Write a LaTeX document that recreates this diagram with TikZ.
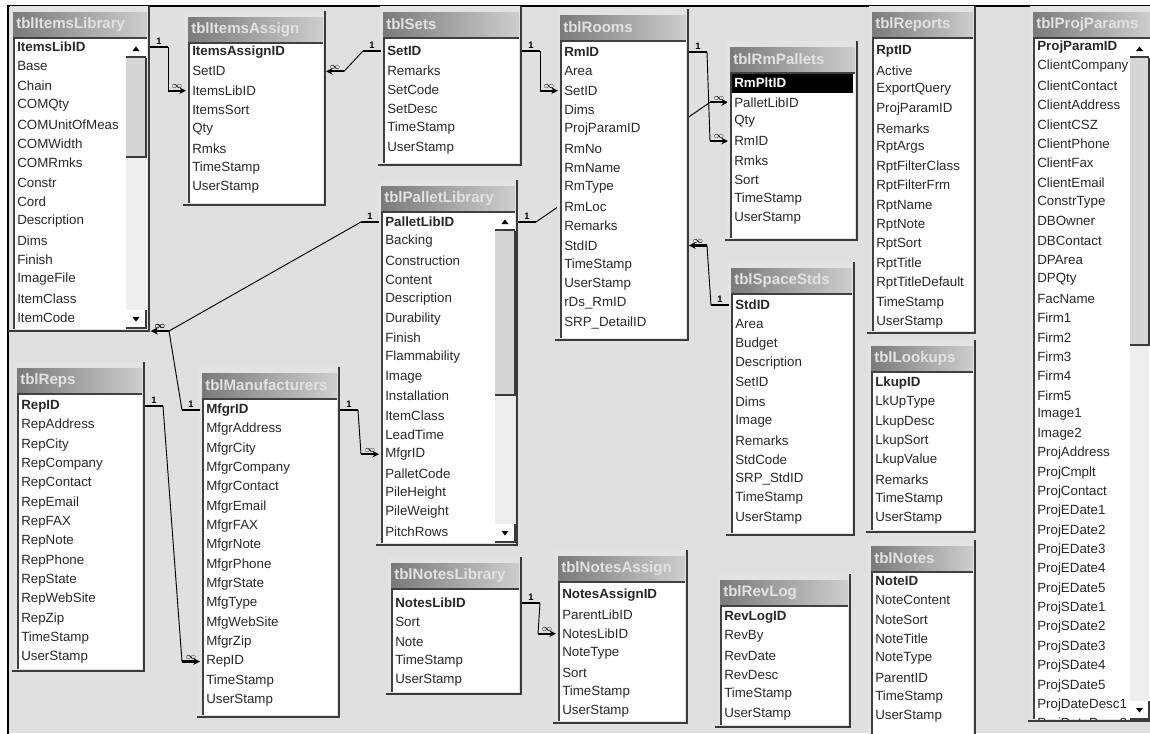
\documentclass[tikz,border=0pt]{standalone}
\usepackage{fontspec}
\setmainfont{Liberation Sans}
\usetikzlibrary{calc,arrows.meta}
\pgfdeclarelayer{canvas}\pgfdeclarelayer{behind}\pgfdeclarelayer{front}
\pgfsetlayers{canvas,behind,main,front}
\definecolor{bgc}{RGB}{224,224,224}
\definecolor{edgec}{RGB}{58,58,58}
\definecolor{tleft}{RGB}{122,122,122}
\definecolor{tright}{RGB}{206,206,206}
\definecolor{ttext}{RGB}{226,226,226}
\definecolor{ftext}{RGB}{40,40,40}
\definecolor{trackc}{RGB}{238,238,238}
\definecolor{btnc}{RGB}{214,214,214}
\tikzset{
 field/.style={anchor=west, inner sep=0pt, font=\fontsize{10}{10}\selectfont, text=ftext},
 ttl/.style={anchor=west, inner sep=0pt, font=\fontsize{11.3}{11.3}\selectfont\bfseries, text=ttext},
 winedge/.style={draw=edgec, line width=2.2pt},
 lbord/.style={draw=black!75, line width=1.4pt},
 stub/.style={line width=1.7pt, black},
 rline/.style={line width=0.7pt, black},
 card/.style={font=\fontsize{7}{7}\selectfont\bfseries, inner sep=0.5pt, above=0.2pt},
}
% #1 name, #2 x1, #3 title top, #4 x2, #5 y2, #6 first field y, #7 title, #8 fields
\newcommand{\dbtable}[8]{%
 \fill[bgc!90!white] (#2-3,#3-6) rectangle (#4,#5);
 \shade[left color=tleft,right color=tright] (#2,#3) rectangle (#4-3,#3+24);
 \begin{scope}
  \clip (#2,#3) rectangle (#4-3,#3+24);
  \node[ttl] (#1-title) at (#2+3,#3+12.5) {#7};
 \end{scope}
 \fill[white] (#2,#3+26) rectangle (#4-3,#5-3);
 \draw[lbord] (#2+0.7,#3+26) -- (#2+0.7,#5-3);
 \draw[lbord] (#2,#3+26) -- (#4-3,#3+26);
 \draw[winedge] (#4-1,#3-6) -- (#4-1,#5-1) -- (#2-5,#5-1);
 \begin{scope}
  \clip (#2,#3+27) rectangle (#4-3,#5-3);
  \foreach \f [count=\i] in {#8} {
    \node[field] (#1-\i) at (#2+4,{#6+(\i-1)*19.35}) {\ifnum\i=1\bfseries\fi\f};
    \coordinate (#1-\i-L) at (#2-2,{#6+(\i-1)*19.35});
    \coordinate (#1-\i-R) at (#4,{#6+(\i-1)*19.35});
  }
 \end{scope}
}
% #1 x1, #2 top, #3 x2, #4 bottom, #5 thumb bottom
\newcommand{\sbar}[5]{%
 \fill[trackc] (#1,#2) rectangle (#3,#4);
 \fill[white] (#1,#2) rectangle (#3,#2+17);
 \draw[edgec, line width=1pt] (#1,#2+17) -- (#3,#2+17);
 \fill[black] ({(#1+#3)/2-3.5},{#2+11}) -- ({(#1+#3)/2+3.5},{#2+11}) -- ({(#1+#3)/2},{#2+6.5}) -- cycle;
 \fill[btnc] (#1,#2+17.5) rectangle (#3,#5);
 \draw[edgec, line width=1.2pt] (#1,#5) -- (#3,#5) -- (#3,#2+17.5);
 \fill[white] (#1,#4-18) rectangle (#3,#4);
 \draw[edgec, line width=1.2pt] (#1,#4) -- (#3,#4) -- (#3,#4-18);
 \fill[black] ({(#1+#3)/2-3.5},{#4-11}) -- ({(#1+#3)/2+3.5},{#4-11}) -- ({(#1+#3)/2},{#4-6.5}) -- cycle;
}
% #1 name, #2 source coord, #3 source dir, #4 target coord, #5 target dir
\newcommand{\dbrel}[5]{%
 \coordinate (#1-a) at ($(#2)+(#3*18,0)$);
 \coordinate (#1-b) at ($(#4)+(#5*18,0)$);
 \draw[stub] (#2) -- (#1-a) node[card, midway] (#1-one) {1};
 \draw[rline] (#1-a) -- (#1-b);
 \draw[stub, -{Stealth[length=5pt,width=5pt]}] (#1-b) -- (#4) node[card, midway] (#1-many) {$\infty$};
}
\begin{document}
\begin{tikzpicture}[x=0.75pt,y=-0.75pt]
\useasboundingbox (0,0) rectangle (1150,733);
\begin{pgfonlayer}{canvas}
\fill[white] (0,0) rectangle (1150,733);
\fill[bgc] (8,6) rectangle (1150,733);
\draw[black, line width=1.4pt] (8,740) -- (8,6) -- (1150,6);
\end{pgfonlayer}

\dbtable{il}{13}{12}{150}{332}{47}{tblItemsLibrary}{ItemsLibID,Base,Chain,COMQty,COMUnitOfMeas,COMWidth,COMRmks,Constr,Cord,Description,Dims,Finish,ImageFile,ItemClass,ItemCode}
\sbar{126}{40}{146}{328}{157}
\coordinate (il-x) at (151,331);

\dbtable{ia}{188}{17}{326}{206}{52}{tblItemsAssign}{ItemsAssignID,SetID,ItemsLibID,ItemsSort,Qty,Rmks,TimeStamp,UserStamp}

\dbtable{se}{383}{12}{522}{166}{51}{tblSets}{SetID,Remarks,SetCode,SetDesc,TimeStamp,UserStamp}

\dbtable{pl}{381}{186}{518}{546}{222}{tblPalletLibrary}{PalletLibID,Backing,Construction,Content,Description,Durability,Finish,Flammability,Image,Installation,ItemClass,LeadTime,MfgrID,PalletCode,PileHeight,PileWeight,PitchRows}
\sbar{495}{213}{515}{542}{395}

\dbtable{rm}{560}{15}{689}{341}{52}{tblRooms}{RmID,Area,SetID,Dims,ProjParamID,RmNo,RmName,RmType,RmLoc,Remarks,StdID,TimeStamp,UserStamp,rDs\_RmID,SRP\_DetailID}

\dbtable{rp}{730}{47}{858}{241}{83}{tblRmPallets}{RmPltID,PalletLibID,Qty,RmID,Rmks,Sort,TimeStamp,UserStamp}
\fill[black] (732,73.5) rectangle (853,92.5);
\node[field, text=white, font=\fontsize{10}{10}\selectfont\bfseries] (rp-sel) at (rp-1.west) {RmPltID};

\dbtable{ss}{731}{268}{855}{536}{305}{tblSpaceStds}{StdID,Area,Budget,Description,SetID,Dims,Image,Remarks,StdCode,SRP\_StdID,TimeStamp,UserStamp}

\dbtable{rpt}{872}{12}{976}{334}{51}{tblReports}{RptID,Active,ExportQuery,ProjParamID,Remarks,RptArgs,RptFilterClass,RptFilterFrm,RptName,RptNote,RptSort,RptTitle,RptTitleDefault,TimeStamp,UserStamp}

\dbtable{lk}{871}{346}{976}{533}{383}{tblLookups}{LkupID,LkUpType,LkupDesc,LkupSort,LkupValue,Remarks,TimeStamp,UserStamp}

\dbtable{nt}{871}{546}{976}{745}{581}{tblNotes}{NoteID,NoteContent,NoteSort,NoteTitle,NoteType,ParentID,TimeStamp,UserStamp}

\dbtable{pp}{1033}{12}{1153}{722}{47}{tblProjParams}{ProjParamID,ClientCompany,ClientContact,ClientAddress,ClientCSZ,ClientPhone,ClientFax,ClientEmail,ConstrType,DBOwner,DBContact,DPArea,DPQty,FacName,Firm1,Firm2,Firm3,Firm4,Firm5,Image1,Image2,ProjAddress,ProjCmplt,ProjContact,ProjEDate1,ProjEDate2,ProjEDate3,ProjEDate4,ProjEDate5,ProjSDate1,ProjSDate2,ProjSDate3,ProjSDate4,ProjSDate5,ProjDateDesc1,ProjDateDesc2}
\sbar{1130}{40}{1149}{719}{345}

\dbtable{rep}{17}{368}{145}{672}{406}{tblReps}{RepID,RepAddress,RepCity,RepCompany,RepContact,RepEmail,RepFAX,RepNote,RepPhone,RepState,RepWebSite,RepZip,TimeStamp,UserStamp}

\dbtable{mf}{202}{373}{340}{718}{410}{tblManufacturers}{MfgrID,MfgrAddress,MfgrCity,MfgrCompany,MfgrContact,MfgrEmail,MfgrFAX,MfgrNote,MfgrPhone,MfgrState,MfgType,MfgWebSite,MfgrZip,RepID,TimeStamp,UserStamp}

\dbtable{nl}{391}{563}{522}{695}{603}{tblNotesLibrary}{NotesLibID,Sort,Note,TimeStamp,UserStamp}

\dbtable{na}{558}{556}{688}{724}{595}{tblNotesAssign}{NotesAssignID,ParentLibID,NotesLibID,NoteType,Sort,TimeStamp,UserStamp}

\dbtable{rl}{720}{580}{851}{728}{617}{tblRevLog}{RevLogID,RevBy,RevDate,RevDesc,TimeStamp,UserStamp}

\begin{pgfonlayer}{behind}
\dbrel{r5}{pl-1-R}{1}{rp-2-L}{-1}
\end{pgfonlayer}
\begin{pgfonlayer}{front}
\dbrel{r1}{il-1-R}{1}{ia-3-L}{-1}
\dbrel{r2}{se-1-L}{-1}{ia-2-R}{1}
\dbrel{r3}{se-1-R}{1}{rm-3-L}{-1}
\dbrel{r4}{rm-1-R}{1}{rp-4-L}{-1}
\dbrel{r6}{ss-1-L}{-1}{rm-11-R}{1}
\dbrel{r7}{pl-1-L}{-1}{il-x}{1}
\dbrel{r8}{mf-1-L}{-1}{il-x}{1}
\dbrel{r9}{rep-1-R}{1}{mf-14-L}{-1}
\dbrel{r10}{mf-1-R}{1}{pl-13-L}{-1}
\dbrel{r11}{nl-1-R}{1}{na-3-L}{-1}
\end{pgfonlayer}
\end{tikzpicture}
\end{document}
